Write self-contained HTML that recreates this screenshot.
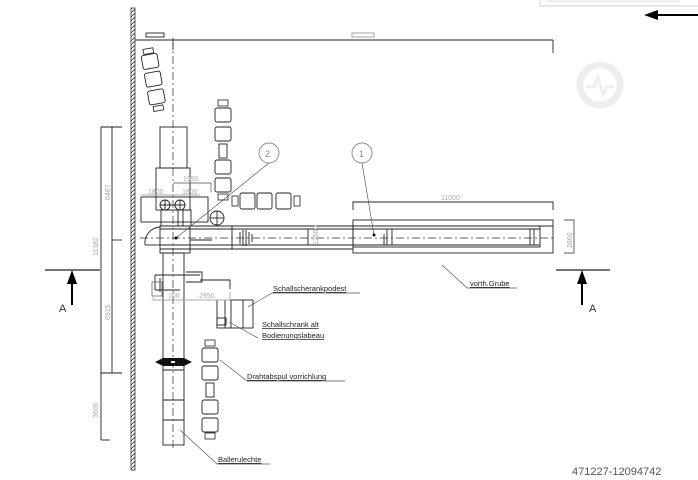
<!DOCTYPE html>
<html><head><meta charset="utf-8"><style>
html,body{margin:0;padding:0;background:#fff;}
svg{display:block;font-family:"Liberation Sans",sans-serif;}
</style></head><body>
<svg width="698" height="480" viewBox="0 0 698 480" xmlns="http://www.w3.org/2000/svg">
<defs>
<pattern id="h" width="4" height="4" patternUnits="userSpaceOnUse"><path d="M0 4L4 0" stroke="#333" stroke-width="0.8"/></pattern>
<g id="lnk"><rect x="0" y="0" width="16" height="14" rx="2" fill="#fff" stroke="#222" stroke-width="0.9"/></g>
</defs>
<!-- top right ui -->
<rect x="540" y="-4" width="170" height="10" rx="2" fill="#fff" stroke="#ccc"/>
<line x1="547" y1="1" x2="680" y2="1" stroke="#ddd"/>
<line x1="655" y1="15" x2="698" y2="15" stroke="#000" stroke-width="2"/>
<polygon points="644,15 658,10 658,20" fill="#000"/>
<!-- watermark -->
<g transform="translate(600,85)" fill="none" stroke="#eee" stroke-width="7">
<circle r="20"/>
<path d="M-14 2 L-6 2 L-2 -8 L3 10 L7 2 L14 2" stroke-width="3"/>
</g>
<!-- wall -->
<rect x="131" y="8" width="4" height="462" fill="url(#h)" stroke="#333" stroke-width="0.8"/>
<g stroke="#222" stroke-width="0.9" fill="none">
<!-- top dimension -->
<line x1="135" y1="40" x2="553" y2="40"/>
<line x1="553" y1="40" x2="553" y2="53"/>
<rect x="146" y="33" width="18" height="4"/>
<rect x="352" y="33" width="22" height="4" stroke="#999"/>
<line x1="173" y1="38" x2="173" y2="50"/>
<!-- left dims -->
<line x1="101" y1="127" x2="101" y2="440"/>
<line x1="112" y1="127" x2="112" y2="373"/>
<line x1="101" y1="127" x2="122" y2="127"/>
<line x1="112" y1="240" x2="122" y2="240"/>
<line x1="101" y1="373" x2="122" y2="373"/>
<line x1="101" y1="440" x2="110" y2="440"/>
<!-- section A -->
<line x1="45" y1="270" x2="100" y2="270" stroke-width="1.3"/>
<line x1="556" y1="270" x2="610" y2="270" stroke-width="1.3"/>
<!-- column -->
<rect x="160" y="127" width="27" height="41"/>
<rect x="156" y="168" width="34" height="42"/>
<rect x="141" y="197" width="67" height="25"/>
<circle cx="165" cy="205" r="5"/><circle cx="180" cy="205" r="5"/>
<line x1="160" y1="205" x2="185" y2="205"/>
<line x1="165" y1="200" x2="165" y2="210"/><line x1="180" y1="200" x2="180" y2="210"/>
<rect x="161" y="210" width="30" height="16"/>
<line x1="178" y1="210" x2="178" y2="226"/><line x1="183" y1="210" x2="183" y2="226"/>
<circle cx="217" cy="218" r="7"/><line x1="210" y1="218" x2="224" y2="218"/><line x1="217" y1="211" x2="217" y2="225"/>
<path d="M145 245 A16 16 0 0 1 160 227"/>
<line x1="145" y1="245" x2="160" y2="245"/>
<rect x="160" y="226" width="30" height="27"/>
<rect x="163" y="253" width="21" height="192"/>
<line x1="163" y1="400" x2="184" y2="400"/>
<line x1="163" y1="420" x2="184" y2="420"/>
<line x1="163" y1="370" x2="184" y2="370"/>
<!-- beam -->
<line x1="160" y1="226" x2="553" y2="226"/>
<line x1="160" y1="229" x2="540" y2="229"/>
<line x1="160" y1="245" x2="540" y2="245"/>
<line x1="160" y1="249" x2="353" y2="249"/>
<line x1="232" y1="226" x2="232" y2="249"/>
<line x1="308" y1="229" x2="308" y2="245"/>
<line x1="190" y1="240" x2="212" y2="240"/>
<line x1="240" y1="232" x2="240" y2="244"/><line x1="243" y1="230" x2="243" y2="246"/><line x1="246" y1="230" x2="246" y2="246"/><line x1="249" y1="232" x2="249" y2="244"/><line x1="252" y1="234" x2="252" y2="242"/>
<!-- pit -->
<rect x="353" y="220" width="200" height="33"/>
<rect x="353" y="226" width="187" height="21"/>
<line x1="384" y1="234" x2="384" y2="245"/><line x1="387" y1="229" x2="387" y2="245"/><line x1="392" y1="229" x2="392" y2="245"/>
<line x1="530" y1="229" x2="530" y2="245"/><line x1="534" y1="229" x2="534" y2="245"/>
<path d="M353 210 V202 H553 V210"/>
<path d="M564 220 H574 V253 H564" stroke="#555"/>
<!-- bracket -->
<path d="M155 275 H200 M155 275 V290 M160 278 V292 M186 272 H202 V282 H186 M200 280 H230 V289 M155 290 H180"/>
<rect x="152" y="282" width="10" height="14" stroke="#777"/>
<!-- schallschrank -->
<rect x="217" y="300" width="36" height="28"/>
<line x1="225" y1="300" x2="225" y2="328"/><line x1="231" y1="300" x2="231" y2="328"/><line x1="243" y1="300" x2="243" y2="328"/>
<rect x="217" y="318" width="9" height="7"/>
<!-- leaders -->
<line x1="248" y1="307" x2="272" y2="293" stroke="#555" stroke-width="0.7"/>
<line x1="272" y1="293" x2="360" y2="293" stroke="#555" stroke-width="0.7"/>
<line x1="229" y1="322" x2="258" y2="338" stroke="#555" stroke-width="0.7"/>
<line x1="220" y1="360" x2="247" y2="381" stroke="#555" stroke-width="0.7"/>
<line x1="247" y1="381" x2="345" y2="381" stroke="#555" stroke-width="0.7"/>
<line x1="180" y1="430" x2="217" y2="464" stroke="#555" stroke-width="0.7"/>
<line x1="217" y1="464" x2="270" y2="464" stroke="#555" stroke-width="0.7"/>
<line x1="442" y1="265" x2="467" y2="288" stroke="#555" stroke-width="0.7"/>
<line x1="467" y1="288" x2="517" y2="288" stroke="#555" stroke-width="0.7"/>
<circle cx="269" cy="153" r="10" stroke="#888"/>
<circle cx="362" cy="153" r="10" stroke="#888"/>
<line x1="269" y1="163" x2="176" y2="238" stroke="#555" stroke-width="0.7"/>
<line x1="362" y1="163" x2="374" y2="235" stroke="#555" stroke-width="0.7"/>
<!-- dim 1950 etc -->
<path d="M173 183 H211 V192" stroke="#777"/>
<line x1="141" y1="195" x2="200" y2="195" stroke="#aaa"/>
<path d="M153 297 V300 H230 V292" stroke="#aaa"/>
</g>
<!-- centerlines -->
<g stroke="#333" stroke-width="0.7" stroke-dasharray="8,3,2,3" fill="none">
<line x1="173" y1="40" x2="173" y2="450"/>
<line x1="140" y1="238" x2="553" y2="238"/>
</g>
<circle cx="176" cy="238" r="1.5" fill="#000"/><circle cx="374" cy="235" r="1.5" fill="#000"/>
<!-- black coupling -->
<polygon points="155,362 163,358 184,358 192,362 184,366 163,366" fill="#111"/>
<rect x="171" y="361" width="4" height="2" fill="#fff"/>
<!-- chains -->
<g transform="translate(140,50) rotate(-10)">
<use href="#lnk" y="6"/><use href="#lnk" y="24"/><use href="#lnk" y="42"/>
<rect x="3" y="0" width="10" height="5" fill="none" stroke="#222" stroke-width="0.8"/><rect x="3" y="58" width="10" height="5" fill="none" stroke="#222" stroke-width="0.8"/>
</g>
<g transform="translate(215,100)">
<rect x="3" y="0" width="10" height="6" fill="none" stroke="#222" stroke-width="0.8"/>
<use href="#lnk" y="8"/><use href="#lnk" y="27"/>
<rect x="4" y="44" width="8" height="14" fill="none" stroke="#222" stroke-width="0.9"/>
<use href="#lnk" y="60"/><use href="#lnk" y="78"/>
<rect x="3" y="94" width="10" height="6" fill="none" stroke="#222" stroke-width="0.8"/>
</g>
<g transform="translate(232,193)">
<rect x="0" y="3" width="6" height="10" fill="none" stroke="#222" stroke-width="0.8"/>
<rect x="8" y="0" width="15" height="16" rx="2" fill="none" stroke="#222" stroke-width="0.9"/>
<rect x="25" y="0" width="15" height="16" rx="2" fill="none" stroke="#222" stroke-width="0.9"/>
<rect x="44" y="0" width="15" height="16" rx="2" fill="none" stroke="#222" stroke-width="0.9"/>
<rect x="62" y="3" width="6" height="10" fill="none" stroke="#222" stroke-width="0.8"/>
</g>
<g transform="translate(202,340)">
<rect x="3" y="0" width="10" height="6" fill="none" stroke="#222" stroke-width="0.8"/>
<use href="#lnk" y="8"/><use href="#lnk" y="26"/>
<rect x="4" y="43" width="8" height="14" fill="none" stroke="#222" stroke-width="0.9"/>
<use href="#lnk" y="60"/><use href="#lnk" y="78"/>
<rect x="3" y="93" width="10" height="6" fill="none" stroke="#222" stroke-width="0.8"/>
</g>
<!-- arrows A -->
<line x1="72" y1="305" x2="72" y2="282" stroke="#000" stroke-width="2"/>
<polygon points="72,270 67,284 77,284" fill="#000"/>
<line x1="582" y1="305" x2="582" y2="282" stroke="#000" stroke-width="2"/>
<polygon points="582,270 577,284 587,284" fill="#000"/>
<g font-size="11" fill="#333"><text x="59" y="312">A</text><text x="589" y="312">A</text></g>
<!-- labels -->
<g font-size="7.5" fill="#222" text-decoration="underline">
<text x="273" y="291">Schallscherankpodest</text>
<text x="262" y="327">Schallschrank  alt</text>
<text x="262" y="338">Bodienungslabeau</text>
<text x="247" y="379">Drahtabspul  vorrichlung</text>
<text x="218" y="462">Ballerulechte</text>
<text x="470" y="286">vorth.Grube</text>
</g>
<g font-size="7" fill="#aaa">
<text x="441" y="200">11000</text>
<text x="183" y="181">1950</text>
<text x="148" y="194">1800</text><text x="182" y="194">1800</text>
<text x="168" y="298">100</text><text x="199" y="298">2950</text>
<text transform="translate(572,248) rotate(-90)">2860</text>
<text transform="translate(318,245) rotate(-90)">12500</text>
<text transform="translate(98,256) rotate(-90)">11382</text>
<text transform="translate(110,200) rotate(-90)">6467</text>
<text transform="translate(110,320) rotate(-90)">6915</text>
<text transform="translate(98,418) rotate(-90)">3606</text>
</g>
<g font-size="9" fill="#888"><text x="265" y="157">2</text><text x="359" y="157">1</text></g>
<text x="572" y="475" font-size="11" fill="#555">471227-12094742</text>
</svg>
</body></html>
